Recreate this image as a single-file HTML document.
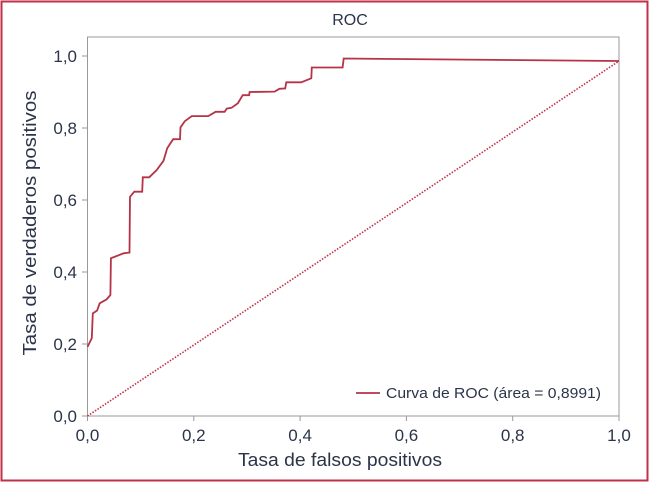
<!DOCTYPE html>
<html><head><meta charset="utf-8"><style>
html,body{margin:0;padding:0;background:#fff;}
svg text{font-family:"Liberation Sans",sans-serif;fill:#2b3448;}
</style></head><body>
<svg width="650" height="484" xmlns="http://www.w3.org/2000/svg">
<rect x="1.5" y="1.5" width="646" height="479" fill="#fff" stroke="#c0304a" stroke-width="2"/>
<text x="350" y="25" font-size="16" text-anchor="middle">ROC</text>
<rect x="87.5" y="37" width="531.5" height="379" fill="none" stroke="#9a9a9a" stroke-width="1"/>
<g id="axes"></g>
<path id="diag" fill="none" stroke="#c0304a" stroke-width="1.6" stroke-dasharray="1.5,1.5"/>
<path id="roc" fill="none" stroke="#b53347" stroke-width="1.8"/>
<g>
<line x1="356" y1="393" x2="380" y2="393" stroke="#b53347" stroke-width="1.8"/>
<text x="386" y="398" font-size="14.5" textLength="215" lengthAdjust="spacingAndGlyphs">Curva de ROC (área = 0,8991)</text>
</g>
<text x="340" y="466" font-size="18" text-anchor="middle" textLength="204" lengthAdjust="spacingAndGlyphs">Tasa de falsos positivos</text>
<text transform="translate(36,223) rotate(-90)" font-size="18" text-anchor="middle" textLength="265" lengthAdjust="spacingAndGlyphs">Tasa de verdaderos positivos</text>
</svg>
<script>
const fpr=[0,0.008,0.01,0.018,0.023,0.036,0.043,0.044,0.068,0.079,0.08,0.088,0.103,0.104,0.116,0.130,0.143,0.150,0.161,0.174,0.175,0.183,0.196,0.227,0.241,0.258,0.262,0.271,0.283,0.292,0.304,0.305,0.352,0.361,0.372,0.374,0.402,0.421,0.422,0.480,0.482,1.0];
const tpr=[0.192,0.216,0.285,0.293,0.313,0.324,0.336,0.438,0.452,0.454,0.609,0.623,0.623,0.663,0.663,0.683,0.709,0.744,0.769,0.769,0.802,0.819,0.833,0.833,0.845,0.845,0.854,0.856,0.869,0.891,0.891,0.900,0.901,0.909,0.910,0.927,0.927,0.938,0.968,0.968,0.993,0.986];
const diagX=[0,1];
const diagY=[0,0.986];
const ticks=[0,0.2,0.4,0.6,0.8,1.0];
const tickLabels=["0,0","0,2","0,4","0,6","0,8","1,0"];
const X=v=>87.5+v*531.5, Y=v=>416-v*360;
const ns="http://www.w3.org/2000/svg";
const ax=document.getElementById('axes');
ticks.forEach((t,i)=>{
 let l=document.createElementNS(ns,'line');
 
 
 l.setAttribute('x1',X(t));l.setAttribute('x2',X(t));l.setAttribute('y1',416);l.setAttribute('y2',421);l.setAttribute('stroke','#9a9a9a');ax.appendChild(l);
 let tx=document.createElementNS(ns,'text');
 
 
 tx.setAttribute('x',X(t));tx.setAttribute('y',441);tx.setAttribute('font-size','17');tx.setAttribute('text-anchor','middle');tx.textContent=tickLabels[i];ax.appendChild(tx);
 let l2=document.createElementNS(ns,'line');
 
 
 l2.setAttribute('x1',82);l2.setAttribute('x2',87.5);l2.setAttribute('y1',Y(t));l2.setAttribute('y2',Y(t));l2.setAttribute('stroke','#9a9a9a');ax.appendChild(l2);
 let ty=document.createElementNS(ns,'text');
 
 
 ty.setAttribute('x',77);ty.setAttribute('y',Y(t)+6);ty.setAttribute('font-size','17');ty.setAttribute('text-anchor','end');ty.textContent=tickLabels[i];ax.appendChild(ty);
});
document.getElementById('roc').setAttribute('d',fpr.map((f,i)=>(i?'L':'M')+X(f).toFixed(1)+','+Y(tpr[i]).toFixed(1)).join(''));
document.getElementById('diag').setAttribute('d',diagX.map((f,i)=>(i?'L':'M')+X(f)+','+Y(diagY[i])).join(''));
</script>
</body></html>
